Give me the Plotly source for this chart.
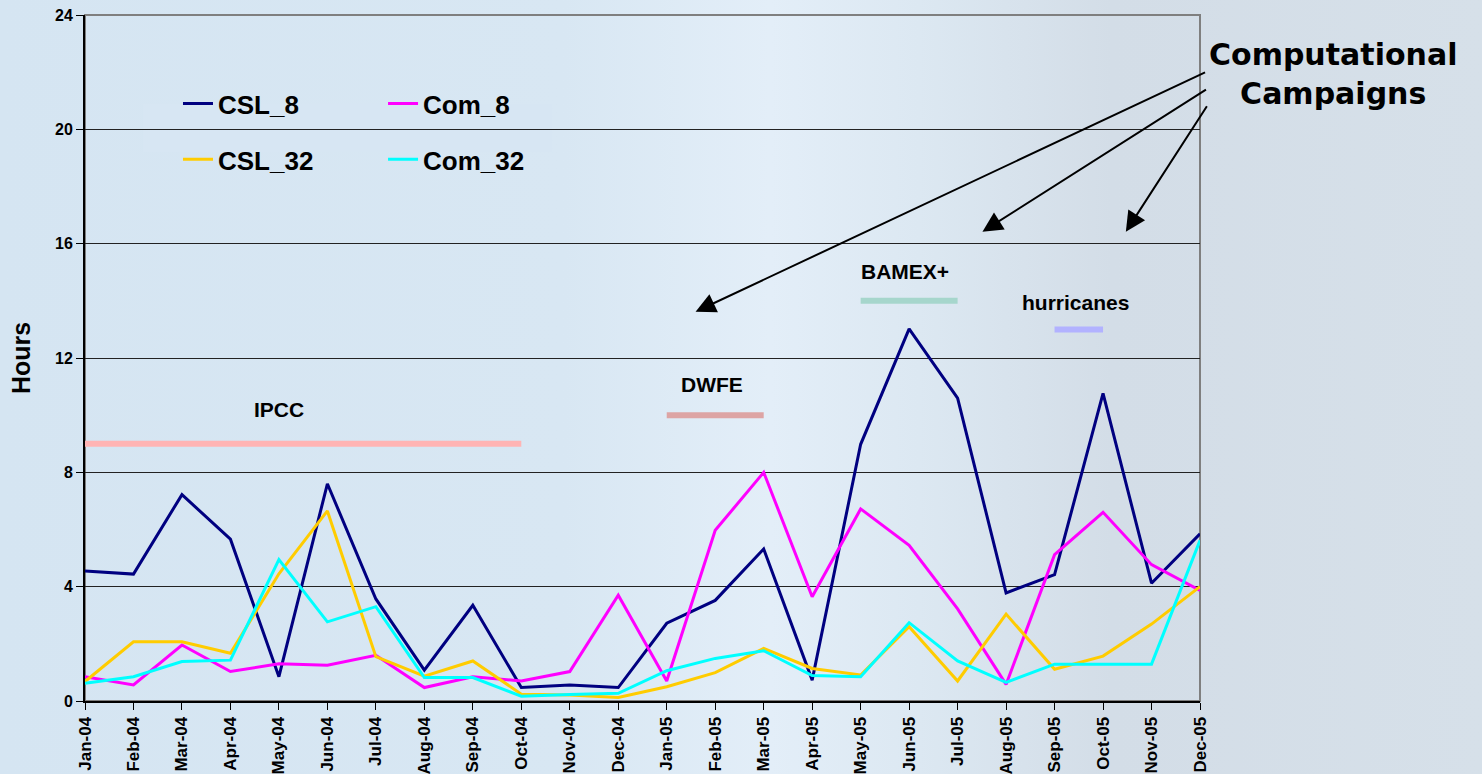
import base64
import plotly.graph_objects as go

# ---------------- data ----------------
months = ["Jan-04", "Feb-04", "Mar-04", "Apr-04", "May-04", "Jun-04", "Jul-04", "Aug-04",
          "Sep-04", "Oct-04", "Nov-04", "Dec-04", "Jan-05", "Feb-05", "Mar-05", "Apr-05",
          "May-05", "Jun-05", "Jul-05", "Aug-05", "Sep-05", "Oct-05", "Nov-05", "Dec-05"]

csl_8 = [4.55, 4.44, 7.22, 5.66, 0.85, 7.6, 3.57, 1.08, 3.35, 0.47, 0.56, 0.47,
         2.72, 3.52, 5.32, 0.73, 8.98, 13.02, 10.6, 3.78, 4.42, 10.76, 4.12, 5.85]
com_8 = [0.85, 0.56, 1.96, 1.03, 1.3, 1.25, 1.6, 0.47, 0.85, 0.7, 1.03, 3.7,
         0.7, 5.97, 8.0, 3.65, 6.72, 5.45, 3.22, 0.58, 5.12, 6.6, 4.77, 3.87]
csl_32 = [0.68, 2.07, 2.07, 1.67, 4.45, 6.65, 1.55, 0.87, 1.4, 0.24, 0.21, 0.12,
          0.5, 0.99, 1.84, 1.14, 0.91, 2.6, 0.7, 3.04, 1.11, 1.57, 2.69, 4.0]
com_32 = [0.62, 0.85, 1.38, 1.43, 4.95, 2.77, 3.3, 0.82, 0.82, 0.17, 0.23, 0.27,
          1.06, 1.49, 1.76, 0.89, 0.85, 2.74, 1.4, 0.65, 1.29, 1.29, 1.29, 5.62]

series_names = ["CSL_8", "Com_8", "CSL_32", "Com_32"]
series_values = [csl_8, com_8, csl_32, com_32]

campaign_names = ["IPCC", "DWFE", "BAMEX+", "hurricanes"]
campaign_start = ["Jan-04", "Jan-05", "May-05", "Sep-05"]
campaign_end = ["Oct-04", "Mar-05", "Jul-05", "Oct-05"]
campaign_level = [9, 10, 14, 13]

y_ticks = [0, 4, 8, 12, 16, 20, 24]

# ---------------- styles / layout positions ----------------
series_colors = {"CSL_8": "#000080", "Com_8": "#ff00ff", "CSL_32": "#ffcc00", "Com_32": "#00ffff"}
series_legend = {"CSL_8": "legend", "CSL_32": "legend", "Com_8": "legend2", "Com_32": "legend2"}
campaign_colors = {"IPCC": "#ffb4b4", "DWFE": "#dda4a4", "BAMEX+": "#a6d6cc", "hurricanes": "#b2b2ff"}
# label placement: x position (category index) and vertical pixel shift above the bar
campaign_label_pos = {"IPCC": (4.0, 34), "DWFE": (12.93, 31), "BAMEX+": (16.92, 29), "hurricanes": (20.43, 27)}

FONT = "Liberation Sans, Arial, sans-serif"
BG = "#d7e6f2"

fig = go.Figure()

for name, vals in zip(series_names, series_values):
    fig.add_trace(go.Scatter(
        x=months, y=vals, mode="lines", name=name,
        line=dict(color=series_colors[name], width=3),
        legend=series_legend[name], legendgroup=name,
        hoverinfo="x+y+name",
    ))

for name, s, e, lvl in zip(campaign_names, campaign_start, campaign_end, campaign_level):
    fig.add_trace(go.Scatter(
        x=[s, e], y=[lvl, lvl], mode="lines", showlegend=False,
        line=dict(color=campaign_colors[name], width=6), hoverinfo="skip",
    ))
    lx, ys = campaign_label_pos[name]
    fig.add_annotation(
        x=lx, y=lvl, xref="x", yref="y", text=name, showarrow=False,
        yshift=ys, font=dict(family=FONT, size=21, color="black", weight="bold"),
    )

# background gradient (decorative)
svg = ('<svg xmlns="http://www.w3.org/2000/svg" width="1482" height="774">'
       '<defs><linearGradient id="g" x1="0" y1="0" x2="1" y2="0">'
       '<stop offset="0" stop-color="#d5e5f2"/>'
       '<stop offset="0.38" stop-color="#d8e7f3"/>'
       '<stop offset="0.52" stop-color="#e3eef8"/>'
       '<stop offset="0.62" stop-color="#dce8f2"/>'
       '<stop offset="0.75" stop-color="#d3dde7"/>'
       '<stop offset="1" stop-color="#d6e0e9"/>'
       '</linearGradient></defs><rect width="1482" height="774" fill="url(#g)"/></svg>')
src = "data:image/svg+xml;base64," + base64.b64encode(svg.encode()).decode()
fig.add_layout_image(dict(source=src, xref="paper", yref="paper", x=-85 / 1115, y=1 + 15 / 686,
                          sizex=1482 / 1115, sizey=774 / 686, sizing="stretch",
                          xanchor="left", yanchor="top", layer="below"))

# hide gridline behind the legend
fig.add_shape(type="rect", xref="paper", yref="paper", x0=0.052, x1=0.419, y0=0.80, y1=0.87,
              fillcolor="#d7e6f3", line=dict(width=0), layer="between")
# plot-area border (gray top/right)
fig.add_shape(type="rect", xref="paper", yref="paper", x0=0, x1=1, y0=0, y1=1,
              line=dict(color="#7f7f7f", width=2), layer="below")

# arrows from "Computational Campaigns"
arrows = [(0.5476, 0.5675, 511, -240), (0.8049, 0.6841, 225, -143), (0.9335, 0.6841, 82, -127)]
for hx, hy, ax, ay in arrows:
    fig.add_annotation(x=hx, y=hy, xref="paper", yref="paper", ax=ax, ay=ay, text="",
                       showarrow=True, arrowhead=2, arrowsize=2.0, arrowwidth=2,
                       arrowcolor="black", standoff=0, startstandoff=0)
fig.add_annotation(x=1.119, y=0.914, xref="paper", yref="paper", showarrow=False,
                   xanchor="center", yanchor="middle",
                   text="Computational<br>Campaigns", align="center",
                   font=dict(family="DejaVu Sans, sans-serif", size=30, color="black", weight="bold"))

leg_common = dict(bgcolor="rgba(0,0,0,0)", borderwidth=0, traceorder="grouped", tracegroupgap=19,
                  font=dict(family=FONT, size=26, color="black", weight="bold"),
                  xanchor="left", yanchor="top", orientation="v")

fig.update_layout(
    width=1482, height=774,
    margin=dict(l=85, r=282, t=15, b=73, autoexpand=False),
    paper_bgcolor=BG, plot_bgcolor="rgba(0,0,0,0)",
    legend=dict(x=0.0834, y=0.905, **leg_common),
    legend2=dict(x=0.2673, y=0.905, **leg_common),
    xaxis=dict(type="category", categoryorder="array", categoryarray=months, automargin=False,
               range=[0, len(months) - 1], showgrid=False, showline=True, linecolor="black",
               linewidth=2, ticks="outside", ticklen=7, tickcolor="black", tickangle=-90,
               tickfont=dict(family=FONT, size=17, color="black", weight="bold"), zeroline=False),
    yaxis=dict(range=[0, 24], tickvals=y_ticks, showgrid=True, gridcolor="#222222", gridwidth=1,
               automargin=False,
               showline=True, linecolor="black", linewidth=2, ticks="outside", ticklen=7,
               tickcolor="black", zeroline=False,
               tickfont=dict(family=FONT, size=16, color="black", weight="bold"),
               title=dict(text="Hours", standoff=17,
                          font=dict(family=FONT, size=25, color="black", weight="bold"))),
    showlegend=True,
)

fig.write_html("out.html", config={"displayModeBar": False},
               post_script="document.body.style.margin='0';document.body.style.overflow='hidden';")
